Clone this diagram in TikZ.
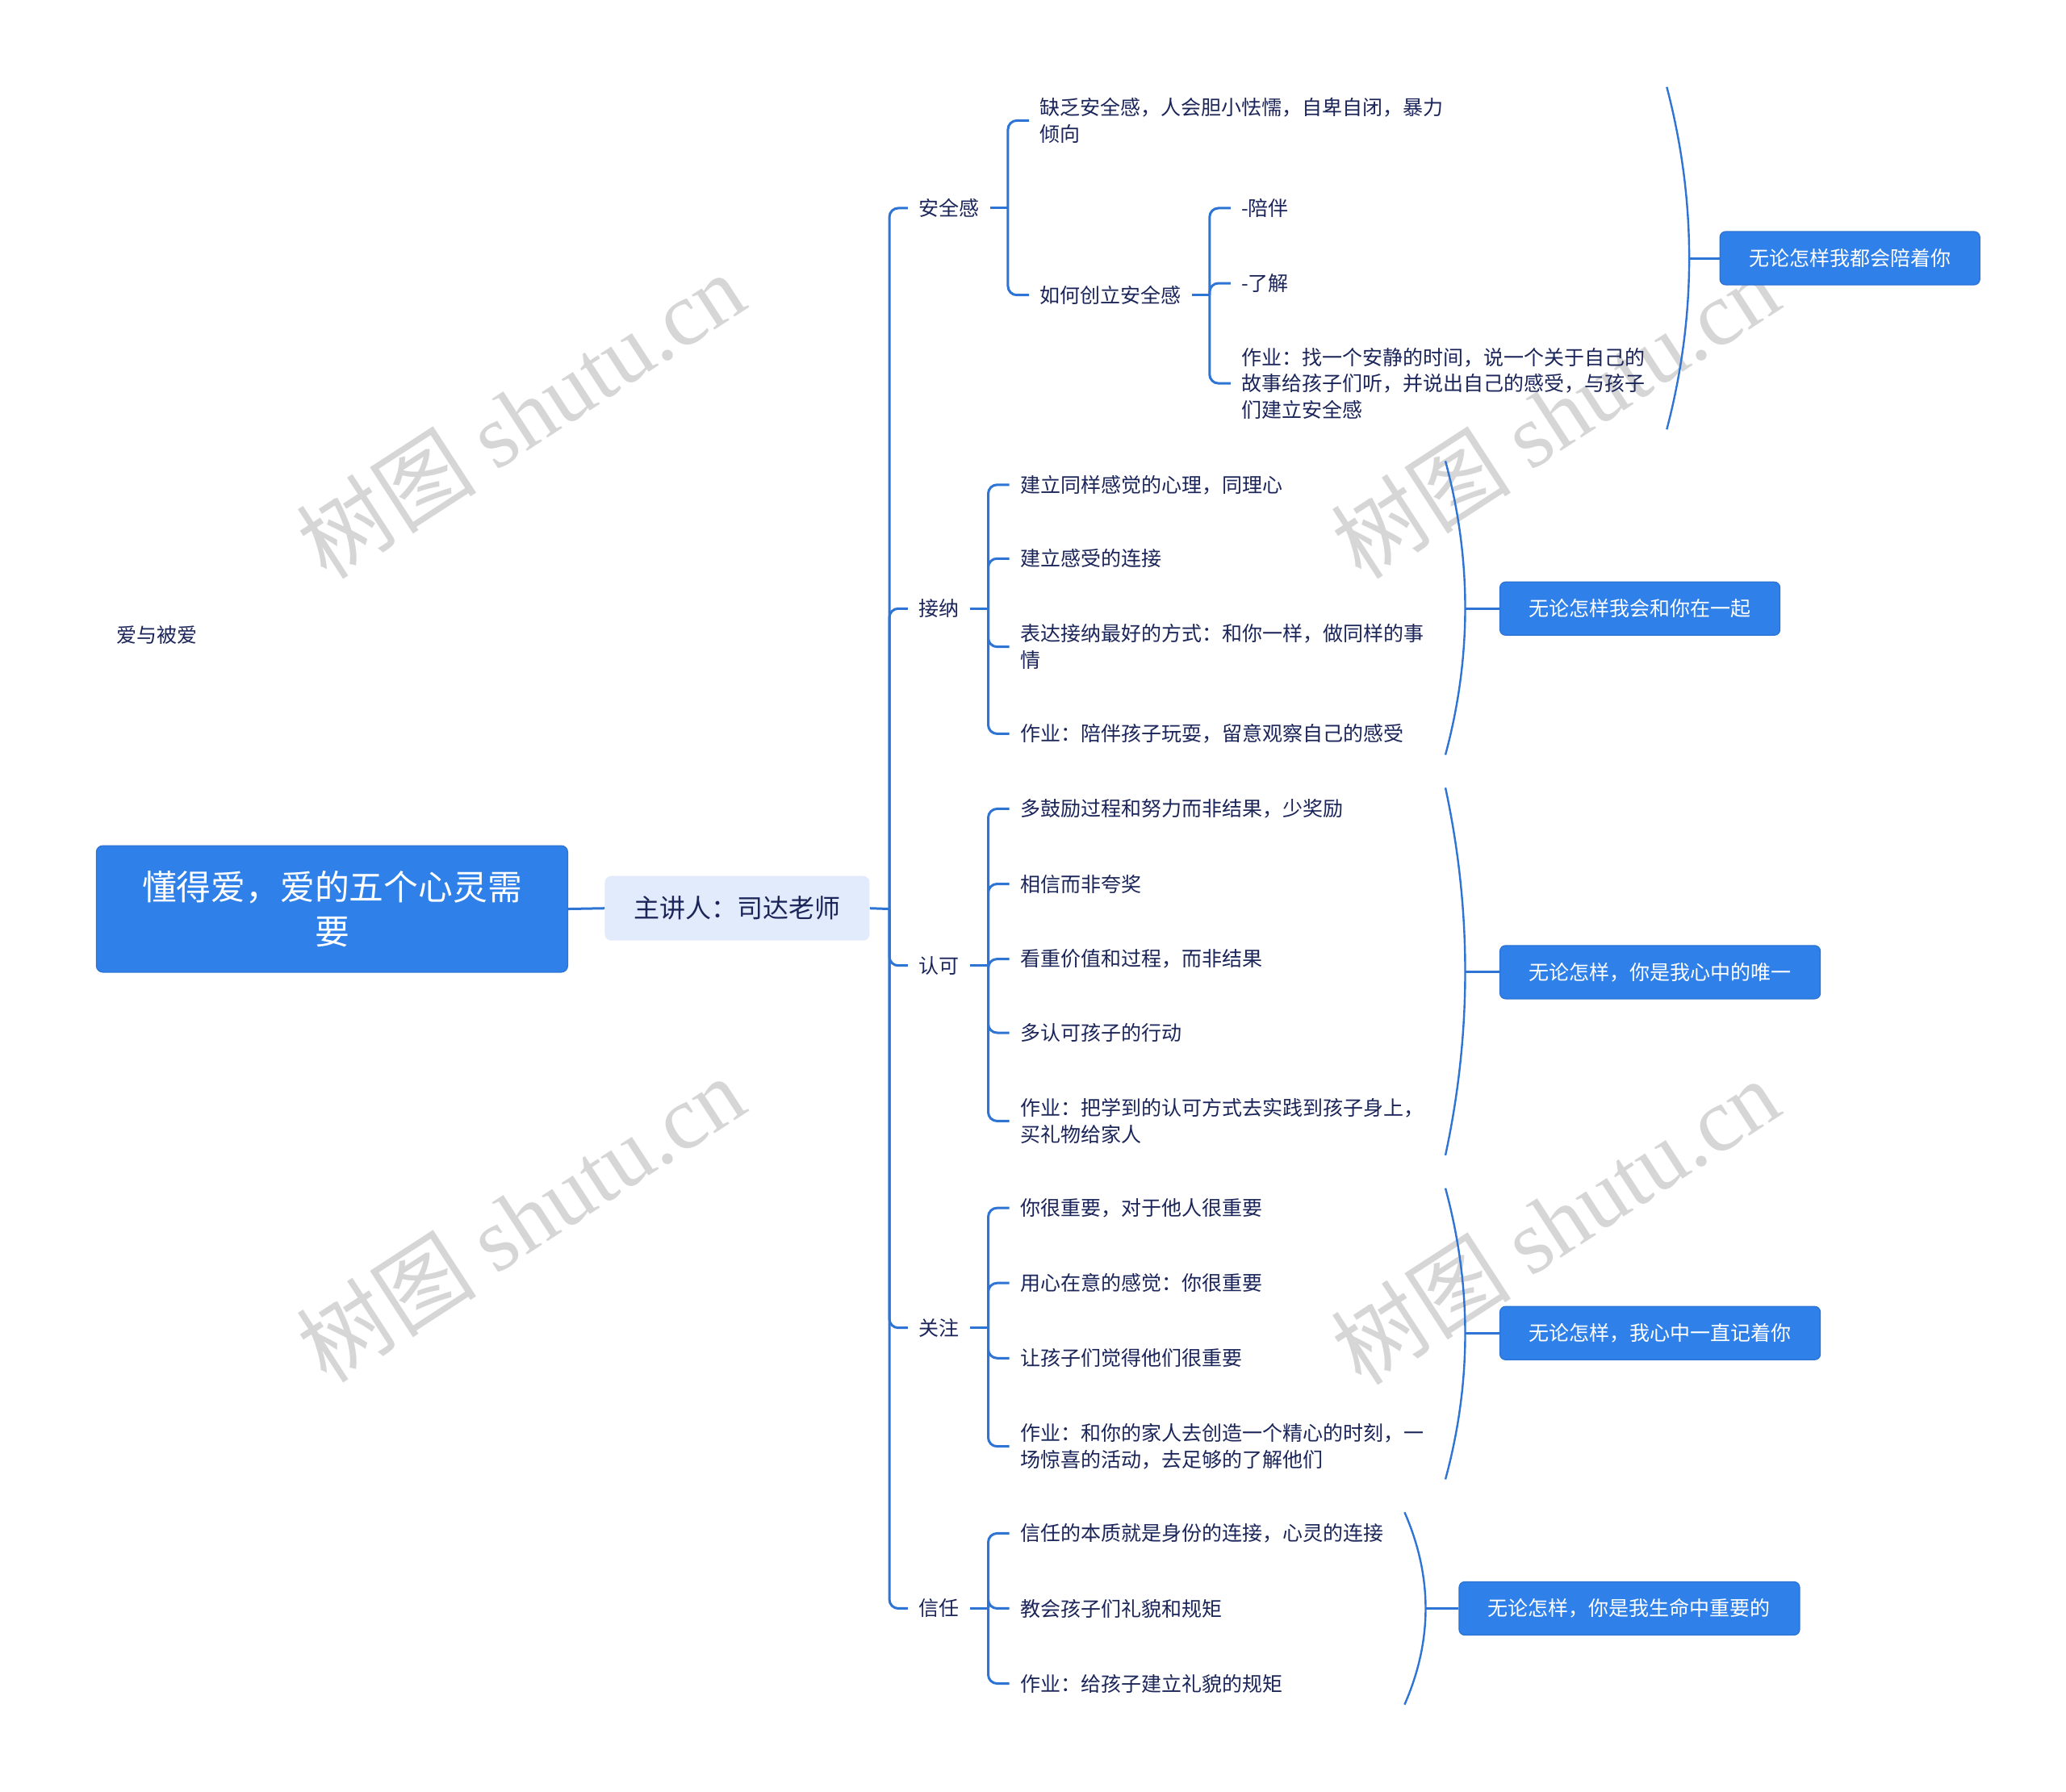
\documentclass[tikz,border=0pt]{standalone}
\usepackage{fontspec}
\setmainfont{Noto Sans CJK SC}
\newfontfamily\cjk{Noto Sans CJK SC}
\newfontfamily\wmlat{Liberation Serif}
\definecolor{boxblue}{HTML}{2F80E8}
\definecolor{boxedge}{HTML}{2A72D4}
\definecolor{lineblue}{HTML}{2E74D4}
\definecolor{presfill}{HTML}{E2EBFB}
\definecolor{navy}{HTML}{1B2559}
\definecolor{wmgrey}{HTML}{D6D6D6}
\begin{document}
\begin{tikzpicture}[x=0.8163pt,y=-0.8163pt,
  conn/.style={draw=lineblue, line width=1.5pt},
  rc/.style={conn, rounded corners=5.5pt},
  txt/.style={font=\fontsize{12.5}{16.3}\selectfont, text=navy, inner xsep=6.5pt, inner ysep=1.5pt, anchor=west, align=left},
  endbox/.style={fill=boxblue, draw=boxedge, line width=0.6pt, rounded corners=3.5pt, text=white, font=\fontsize{12.5}{15}\selectfont, inner xsep=18pt, minimum height=33pt, anchor=west},
  brace/.style={draw=lineblue, line width=1.2pt},
  wm/.style={text=wmgrey, font=\fontsize{56}{60}\selectfont, rotate=33, inner sep=0pt}
]
\useasboundingbox[fill=white] (0,0) rectangle (1568,1360);

% watermarks
\node[wm] (wm1) at (395,315) {树图 {\wmlat shutu.cn}};
\node[wm] (wm2) at (1180,315) {树图 {\wmlat shutu.cn}};
\node[wm] (wm3) at (395,925) {树图 {\wmlat shutu.cn}};
\node[wm] (wm4) at (1180,927) {树图 {\wmlat shutu.cn}};

% root and presenter
\node[fill=boxblue, draw=boxedge, line width=0.6pt, rounded corners=4pt, text=white, font=\fontsize{21.4}{27.8}\selectfont, minimum width=292pt, minimum height=78.4pt, align=center] (root) at (252,690) {懂得爱，爱的五个心灵需\\要};
\node[fill=presfill, rounded corners=4pt, text=navy, font=\fontsize{16}{19}\selectfont, minimum width=164pt, minimum height=40pt] (pres) at (559.5,689.5) {主讲人：司达老师};
\draw[conn] (root.east) -- (pres.west);

\node[txt] (free) at (80,482) {爱与被爱};

% level-1 labels
\node[txt] (l1) at (689,158) {安全感};
\node[txt] (l2) at (689,462) {接纳};
\node[txt] (l3) at (689,733) {认可};
\node[txt] (l4) at (689,1008) {关注};
\node[txt] (l5) at (689,1221) {信任};

\coordinate (tr) at (675,690);
\draw[conn] (pres.east) -- (tr);
\foreach \n in {l1,l2,l3,l4,l5} \draw[rc] (tr) |- (\n.west);

% group 1: 安全感
\node[txt] (c11) at (781,91.5) {缺乏安全感，人会胆小怯懦，自卑自闭，暴力\\倾向};
\node[txt] (c12) at (781,224) {如何创立安全感};
\coordinate (s1) at (765,158);
\draw[conn] (l1.east) -- (s1);
\draw[rc] (s1) |- (c11.west);
\draw[rc] (s1) |- (c12.west);

\node[txt] (g1) at (934,158) {-陪伴};
\node[txt] (g2) at (934,215) {-了解};
\node[txt] (g3) at (934,291) {作业：找一个安静的时间，说一个关于自己的\\故事给孩子们听，并说出自己的感受，与孩子\\们建立安全感};
\coordinate (s12) at (918,224);
\draw[conn] (c12.east) -- (s12);
\foreach \n in {g1,g2,g3} \draw[rc] (s12) |- (\n.west);

\coordinate (t1) at (1265,66);
\coordinate (b1) at (1265,326);
\coordinate (m1) at (1282,196);
\draw[brace] (t1) .. controls (1287.7,152.7) and (1287.7,239.3) .. (b1);
\node[endbox] (e1) at (1305,196) {无论怎样我都会陪着你};
\draw[conn] (m1) -- (e1.west);

% group 2: 接纳
\node[txt] (c21) at (766,368) {建立同样感觉的心理，同理心};
\node[txt] (c22) at (766,424) {建立感受的连接};
\node[txt] (c23) at (766,491) {表达接纳最好的方式：和你一样，做同样的事\\情};
\node[txt] (c24) at (766,557) {作业：陪伴孩子玩耍，留意观察自己的感受};
\coordinate (s2) at (750,462);
\draw[conn] (l2.east) -- (s2);
\foreach \n in {c21,c22,c23,c24} \draw[rc] (s2) |- (\n.west);

\coordinate (t2) at (1097,350);
\coordinate (b2) at (1097,573);
\coordinate (m2) at (1112,462);
\draw[brace] (t2) .. controls (1117,424.3) and (1117,498.7) .. (b2);
\node[endbox] (e2) at (1138,462) {无论怎样我会和你在一起};
\draw[conn] (m2) -- (e2.west);

% group 3: 认可
\node[txt] (c31) at (766,614) {多鼓励过程和努力而非结果，少奖励};
\node[txt] (c32) at (766,671) {相信而非夸奖};
\node[txt] (c33) at (766,728) {看重价值和过程，而非结果};
\node[txt] (c34) at (766,784) {多认可孩子的行动};
\node[txt] (c35) at (766,851) {作业：把学到的认可方式去实践到孩子身上，\\买礼物给家人};
\coordinate (s3) at (750,733);
\draw[conn] (l3.east) -- (s3);
\foreach \n in {c31,c32,c33,c34,c35} \draw[rc] (s3) |- (\n.west);

\coordinate (t3) at (1097,598);
\coordinate (b3) at (1097,877);
\coordinate (m3) at (1112,738);
\draw[brace] (t3) .. controls (1117,691) and (1117,784) .. (b3);
\node[endbox] (e3) at (1138,738) {无论怎样，你是我心中的唯一};
\draw[conn] (m3) -- (e3.west);

% group 4: 关注
\node[txt] (c41) at (766,917) {你很重要，对于他人很重要};
\node[txt] (c42) at (766,974) {用心在意的感觉：你很重要};
\node[txt] (c43) at (766,1031) {让孩子们觉得他们很重要};
\node[txt] (c44) at (766,1098) {作业：和你的家人去创造一个精心的时刻，一\\场惊喜的活动，去足够的了解他们};
\coordinate (s4) at (750,1008);
\draw[conn] (l4.east) -- (s4);
\foreach \n in {c41,c42,c43,c44} \draw[rc] (s4) |- (\n.west);

\coordinate (t4) at (1097,902);
\coordinate (b4) at (1097,1123);
\coordinate (m4) at (1112,1012);
\draw[brace] (t4) .. controls (1117,975.7) and (1117,1049.3) .. (b4);
\node[endbox] (e4) at (1138,1012) {无论怎样，我心中一直记着你};
\draw[conn] (m4) -- (e4.west);

% group 5: 信任
\node[txt] (c51) at (766,1164) {信任的本质就是身份的连接，心灵的连接};
\node[txt] (c52) at (766,1221) {教会孩子们礼貌和规矩};
\node[txt] (c53) at (766,1278) {作业：给孩子建立礼貌的规矩};
\coordinate (s5) at (750,1221);
\draw[conn] (l5.east) -- (s5);
\foreach \n in {c51,c52,c53} \draw[rc] (s5) |- (\n.west);

\coordinate (t5) at (1066,1148);
\coordinate (b5) at (1066,1294);
\coordinate (m5) at (1082,1221);
\draw[brace] (t5) .. controls (1087.3,1196.7) and (1087.3,1245.3) .. (b5);
\node[endbox] (e5) at (1107,1221) {无论怎样，你是我生命中重要的};
\draw[conn] (m5) -- (e5.west);
\end{tikzpicture}
\end{document}
